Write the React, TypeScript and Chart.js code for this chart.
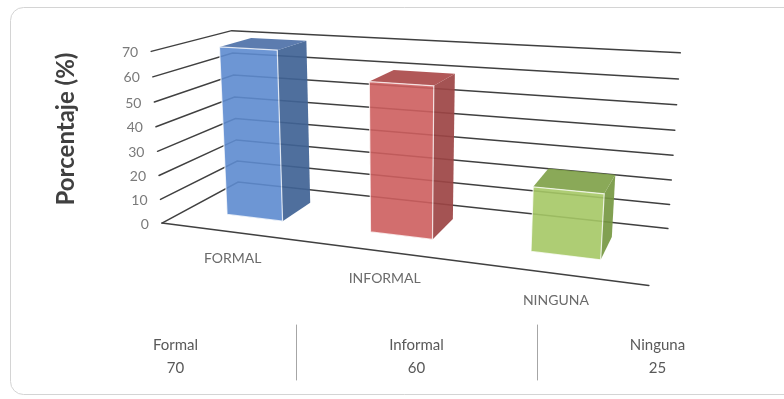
import React, { useEffect, useRef } from 'react';
import { Chart, registerables } from 'chart.js';

Chart.register(...registerables);

// ---------- data ----------
const categories = ['FORMAL', 'INFORMAL', 'NINGUNA'];
const tableLabels = ['Formal', 'Informal', 'Ninguna'];
const values = [70, 60, 25];
const yTicks = [0, 10, 20, 30, 40, 50, 60, 70];
const yMax = 70;
const axisTitle = 'Porcentaje (%)';

// ---------- styles ----------
const frontColors = ['rgba(93,139,207,0.9)', 'rgba(205,94,94,0.9)', 'rgba(165,200,101,0.9)'];
const topColors = ['rgba(78,113,168,0.92)', 'rgba(170,74,74,0.92)', 'rgba(128,162,74,0.92)'];
const sideColors = ['rgba(64,99,149,0.92)', 'rgba(156,68,68,0.92)', 'rgba(118,152,66,0.92)'];
const W = 784;
const H = 399;
const FONT = 'Lato, "Open Sans", sans-serif';

// perspective frame of the 3D box: world (u, v, w) -> screen (x, y)
// u: category axis 0..1, v: value axis 0..1, w: depth 0 (front) .. 1 (back)
const frameCorners: [number[], number[]][] = [
  [[0, 0, 0], [163, 222]],
  [[0, 1, 0], [150, 52]],
  [[0, 0, 1], [237, 183]],
  [[0, 1, 1], [233, 30]],
  [[1, 0, 1], [668, 228]],
  [[1, 1, 1], [680, 53]],
  [[1, 0, 0], [649, 286]],
];
const barDepth = [0.3, 0.72];

function solveProjection(pairs: [number[], number[]][]) {
  const rows: number[][] = [];
  const rhs: number[] = [];
  for (const [[X, Y, Z], [x, y]] of pairs) {
    rows.push([X, Y, Z, 1, 0, 0, 0, 0, -x * X, -x * Y, -x * Z]);
    rhs.push(x);
    rows.push([0, 0, 0, 0, X, Y, Z, 1, -y * X, -y * Y, -y * Z]);
    rhs.push(y);
  }
  const n = 11;
  const M = Array.from({ length: n }, () => new Array(n + 1).fill(0));
  for (let r = 0; r < rows.length; r++) {
    for (let i = 0; i < n; i++) {
      for (let j = 0; j < n; j++) M[i][j] += rows[r][i] * rows[r][j];
      M[i][n] += rows[r][i] * rhs[r];
    }
  }
  for (let c = 0; c < n; c++) {
    let piv = c;
    for (let r = c + 1; r < n; r++) if (Math.abs(M[r][c]) > Math.abs(M[piv][c])) piv = r;
    [M[c], M[piv]] = [M[piv], M[c]];
    for (let r = 0; r < n; r++) {
      if (r === c) continue;
      const f = M[r][c] / M[c][c];
      for (let k = c; k <= n; k++) M[r][k] -= f * M[c][k];
    }
  }
  return M.map((row, i) => row[n] / row[i]);
}

export default function App() {
  const ref = useRef<HTMLCanvasElement>(null);

  useEffect(() => {
    const canvas = ref.current!;
    const p = solveProjection(frameCorners);
    const P = (u: number, v: number, w: number) => {
      const d = p[8] * u + p[9] * v + p[10] * w + 1;
      return [
        (p[0] * u + p[1] * v + p[2] * w + p[3]) / d,
        (p[4] * u + p[5] * v + p[6] * w + p[7]) / d,
      ];
    };

    const poly = (ctx: CanvasRenderingContext2D, pts: number[][], fill: string, stroke?: string) => {
      ctx.beginPath();
      pts.forEach(([x, y], i) => (i ? ctx.lineTo(x, y) : ctx.moveTo(x, y)));
      ctx.closePath();
      ctx.fillStyle = fill;
      ctx.fill();
      if (stroke) {
        ctx.strokeStyle = stroke;
        ctx.lineWidth = 1.2;
        ctx.stroke();
      }
    };

    const plugin = {
      id: 'threeD',
      beforeDraw(chart: any) {
        const ctx = chart.ctx as CanvasRenderingContext2D;
        ctx.save();
        ctx.fillStyle = '#ffffff';
        ctx.fillRect(0, 0, W, H);
        // rounded frame
        const x0 = 10.5, y0 = 7.5, x1 = 800, y1 = 394.5, r = 13;
        ctx.beginPath();
        ctx.moveTo(x0 + r, y0);
        ctx.lineTo(x1 - r, y0);
        ctx.arcTo(x1, y0, x1, y0 + r, r);
        ctx.lineTo(x1, y1 - r);
        ctx.arcTo(x1, y1, x1 - r, y1, r);
        ctx.lineTo(x0 + r, y1);
        ctx.arcTo(x0, y1, x0, y1 - r, r);
        ctx.lineTo(x0, y0 + r);
        ctx.arcTo(x0, y0, x0 + r, y0, r);
        ctx.closePath();
        ctx.strokeStyle = '#d4d4d4';
        ctx.lineWidth = 1;
        ctx.stroke();
        ctx.restore();
      },
      beforeDatasetsDraw() {
        return false;
      },
      afterDraw(chart: any) {
        const ctx = chart.ctx as CanvasRenderingContext2D;
        const area = chart.chartArea;
        const xs = chart.scales.x;
        const ys = chart.scales.y;
        const uOf = (px: number) => (px - area.left) / (area.right - area.left);
        const vOf = (py: number) => (area.bottom - py) / (area.bottom - area.top);
        ctx.save();

        // walls / gridlines
        ctx.strokeStyle = '#404040';
        ctx.lineWidth = 1.5;
        ctx.lineCap = 'round';
        yTicks.forEach((t) => {
          const v = vOf(ys.getPixelForValue(t));
          const a = P(0, v, 0), b = P(0, v, 1), c = P(1, v, 1);
          ctx.beginPath();
          ctx.moveTo(a[0], a[1]);
          ctx.lineTo(b[0], b[1]);
          ctx.lineTo(c[0], c[1]);
          ctx.stroke();
          // tick label
          ctx.fillStyle = '#7a7a7a';
          ctx.font = `14px ${FONT}`;
          ctx.textAlign = 'right';
          ctx.textBaseline = 'middle';
          ctx.fillText(String(t), a[0] - 13, a[1] + 1);
        });
        // floor front edge
        {
          const a = P(0, 0, 0), b = P(1, 0, 0);
          ctx.beginPath();
          ctx.moveTo(a[0], a[1]);
          ctx.lineTo(b[0], b[1]);
          ctx.stroke();
        }

        // bars
        const meta = chart.getDatasetMeta(0);
        const [w0, w1] = barDepth;
        meta.data.forEach((bar: any, i: number) => {
          const { x, y, base, width } = bar.getProps(['x', 'y', 'base', 'width'], true);
          const u0 = uOf(x - width / 2), u1 = uOf(x + width / 2);
          const v0 = vOf(base), v1 = vOf(y);
          const side = [P(u1, v0, w0), P(u1, v0, w1), P(u1, v1, w1), P(u1, v1, w0)];
          const top = [P(u0, v1, w0), P(u1, v1, w0), P(u1, v1, w1), P(u0, v1, w1)];
          const front = [P(u0, v0, w0), P(u1, v0, w0), P(u1, v1, w0), P(u0, v1, w0)];
          poly(ctx, side, sideColors[i]);
          poly(ctx, top, topColors[i]);
          poly(ctx, front, frontColors[i], 'rgba(255,255,255,0.75)');
        });

        // category labels
        ctx.fillStyle = '#6b6b6b';
        ctx.font = `14px ${FONT}`;
        ctx.textAlign = 'center';
        ctx.textBaseline = 'middle';
        categories.forEach((c, i) => {
          const u = uOf(xs.getPixelForValue(i));
          const q = P(u, 0, 0);
          ctx.fillText(c, q[0] + 1, q[1] + 27);
        });

        // axis title
        ctx.save();
        ctx.translate(66, 129);
        ctx.rotate(-Math.PI / 2);
        ctx.fillStyle = '#404040';
        ctx.font = `bold 24px ${FONT}`;
        ctx.textAlign = 'center';
        ctx.textBaseline = 'middle';
        ctx.fillText(axisTitle, 0, 0);
        ctx.restore();

        // data table
        const colW = 241;
        const colX0 = 55;
        ctx.font = `15px ${FONT}`;
        ctx.fillStyle = '#595959';
        tableLabels.forEach((lab, i) => {
          const cx = colX0 + colW * (i + 0.5);
          ctx.fillText(lab, cx, 345);
          ctx.fillText(String(values[i]), cx, 368);
          if (i > 0) {
            const lx = Math.round(colX0 + colW * i) + 0.5;
            ctx.strokeStyle = '#a6a6a6';
            ctx.lineWidth = 1;
            ctx.beginPath();
            ctx.moveTo(lx, 325);
            ctx.lineTo(lx, 380);
            ctx.stroke();
          }
        });
        ctx.restore();
      },
    };

    const chart = new Chart(canvas, {
      type: 'bar',
      data: {
        labels: categories,
        datasets: [{ data: values, backgroundColor: frontColors }],
      },
      options: {
        animation: false,
        responsive: false,
        devicePixelRatio: 1,
        layout: { padding: 0 },
        datasets: { bar: { categoryPercentage: 1, barPercentage: 0.4 } },
        scales: {
          x: { display: false, offset: true },
          y: { display: false, min: 0, max: yMax },
        },
        plugins: { legend: { display: false }, tooltip: { enabled: false } },
      },
      plugins: [plugin],
    } as any);
    return () => chart.destroy();
  }, []);

  return (
    <div style={{ position: 'fixed', left: 0, top: 0, width: W, height: H, background: '#fff' }}>
      <canvas ref={ref} width={W} height={H} style={{ display: 'block' }} />
    </div>
  );
}
